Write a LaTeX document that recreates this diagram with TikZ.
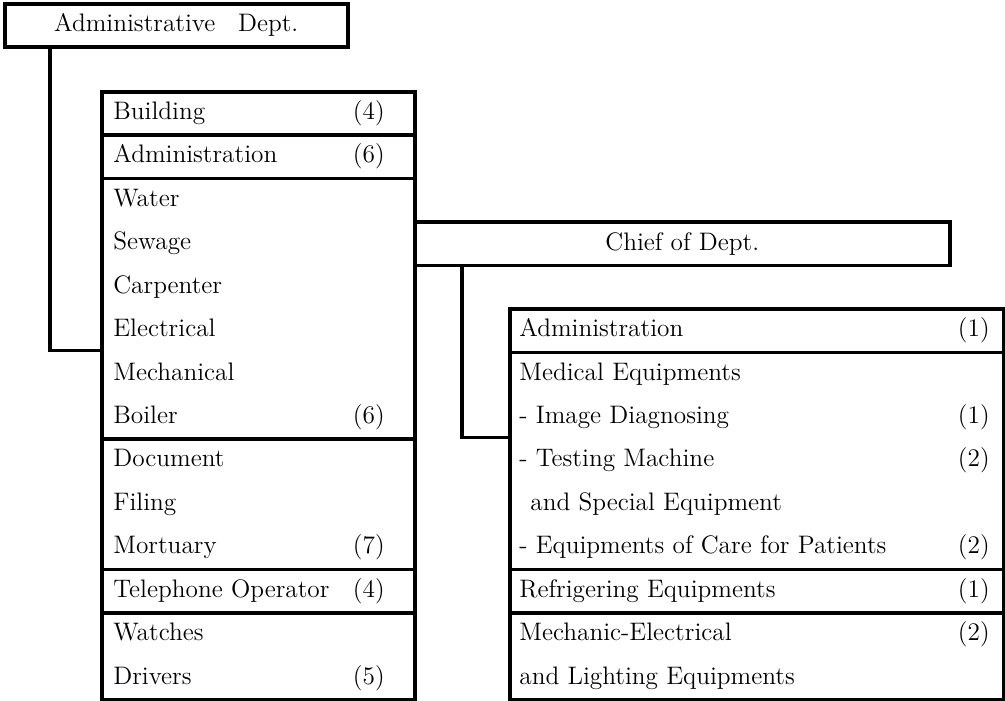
\documentclass[tikz,border=0pt]{standalone}
\usepackage{fontspec}
\usetikzlibrary{positioning}
\tikzset{
  org/box/.style={
    draw=black,
    line width=2pt,
    fill=white,
    inner sep=0pt,
    anchor=north west,
    font=\fontsize{14.4}{17}\selectfont
  },
  org/label/.style={anchor=base west, inner sep=0pt, font=\fontsize{14.4}{17}\selectfont},
  org/count/.style={anchor=base east, inner sep=0pt, font=\fontsize{14.4}{17}\selectfont},
  org/link/.style={line width=2pt, draw=black}
}

\begin{document}
\begin{tikzpicture}[x=1cm,y=1cm]
  \useasboundingbox (0,0) rectangle (20.1,14);
  % heads
  \node[org/box,minimum width=6.86cm,minimum height=0.86cm] (admdept) at (0.06,13.96) {Administrative\hspace{0.9em}Dept.};
  \node[org/box,minimum width=10.7cm,minimum height=0.8686cm] (chief) at (8.26,9.594) {Chief of Dept.};
  % left column
  \node[org/box,minimum width=6.26cm,minimum height=0.8686cm] (building) at (2.0,12.2) {};
  \node[org/box,minimum width=6.26cm,minimum height=0.8686cm] (leftadmin) at (2.0,11.331) {};
  \node[org/box,minimum width=6.26cm,minimum height=5.212cm] (works) at (2.0,10.463) {};
  \node[org/box,minimum width=6.26cm,minimum height=2.606cm] (records) at (2.0,5.251) {};
  \node[org/box,minimum width=6.26cm,minimum height=0.8686cm] (phone) at (2.0,2.645) {};
  \node[org/box,minimum width=6.26cm,minimum height=1.737cm] (transport) at (2.0,1.777) {};
  % right column
  \node[org/box,minimum width=9.88cm,minimum height=0.8686cm] (rightadmin) at (10.16,7.857) {};
  \node[org/box,minimum width=9.88cm,minimum height=4.343cm] (medical) at (10.16,6.988) {};
  \node[org/box,minimum width=9.88cm,minimum height=0.8686cm] (refrig) at (10.16,2.645) {};
  \node[org/box,minimum width=9.88cm,minimum height=1.737cm] (mecelec) at (10.16,1.777) {};

  % left column texts
  \node[org/label] (buildingtxt) at (2.26,11.61) {Building};
  \node[org/count] (buildingnum) at (7.7,11.61) {(4)};
  \node[org/label] (leftadmintxt) at (2.26,10.741) {Administration};
  \node[org/count] (leftadminnum) at (7.7,10.741) {(6)};
  \node[org/label] (watertxt) at (2.26,9.873) {Water};
  \node[org/label] (sewagetxt) at (2.26,9.004) {Sewage};
  \node[org/label] (carpentertxt) at (2.26,8.136) {Carpenter};
  \node[org/label] (electricaltxt) at (2.26,7.267) {Electrical};
  \node[org/label] (mechanicaltxt) at (2.26,6.398) {Mechanical};
  \node[org/label] (boilertxt) at (2.26,5.530) {Boiler};
  \node[org/count] (worksnum) at (7.7,5.530) {(6)};
  \node[org/label] (documenttxt) at (2.26,4.661) {Document};
  \node[org/label] (filingtxt) at (2.26,3.793) {Filing};
  \node[org/label] (mortuarytxt) at (2.26,2.924) {Mortuary};
  \node[org/count] (recordsnum) at (7.7,2.924) {(7)};
  \node[org/label] (phonetxt) at (2.26,2.055) {Telephone Operator};
  \node[org/count] (phonenum) at (7.7,2.055) {(4)};
  \node[org/label] (watchestxt) at (2.26,1.187) {Watches};
  \node[org/label] (driverstxt) at (2.26,0.318) {Drivers};
  \node[org/count] (transportnum) at (7.7,0.318) {(5)};

  % right column texts
  \node[org/label] (rightadmintxt) at (10.38,7.267) {Administration};
  \node[org/count] (rightadminnum) at (19.8,7.267) {(1)};
  \node[org/label] (medicaltxt) at (10.38,6.398) {Medical Equipments};
  \node[org/label] (imagetxt) at (10.38,5.530) {- Image Diagnosing};
  \node[org/count] (imagenum) at (19.8,5.530) {(1)};
  \node[org/label] (testingtxt) at (10.38,4.661) {- Testing Machine};
  \node[org/count] (testingnum) at (19.8,4.661) {(2)};
  \node[org/label] (specialtxt) at (10.60,3.793) {and Special Equipment};
  \node[org/label] (caretxt) at (10.38,2.924) {- Equipments of Care for Patients};
  \node[org/count] (carenum) at (19.8,2.924) {(2)};
  \node[org/label] (refrigtxt) at (10.38,2.055) {Refrigering Equipments};
  \node[org/count] (refrignum) at (19.8,2.055) {(1)};
  \node[org/label] (mecelectxt) at (10.38,1.187) {Mechanic-Electrical};
  \node[org/count] (mecelecnum) at (19.8,1.187) {(2)};
  \node[org/label] (lightingtxt) at (10.38,0.318) {and Lighting Equipments};

  % links
  \coordinate (worksjoin) at (2.0,6.988);
  \coordinate (medjoin) at (10.16,5.251);
  \draw[org/link] ([xshift=0.94cm]admdept.south west) |- (worksjoin);
  \draw[org/link] ([xshift=0.98cm]chief.south west) |- (medjoin);
\end{tikzpicture}
\end{document}
